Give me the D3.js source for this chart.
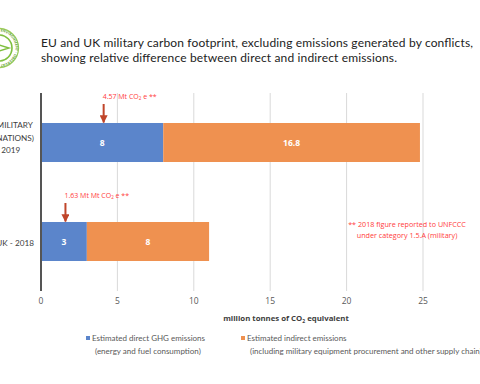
<!DOCTYPE html>
<html><head><meta charset="utf-8">
<script src="https://cdn.jsdelivr.net/npm/d3@7"></script>
<style>
html,body{margin:0;padding:0;background:#fff;overflow:hidden;}
svg{display:block;}
</style></head>
<body>
<svg id="c" width="480" height="384"></svg>
<script>
// ---- data ----
const categories = ["EU", "UK"];
const categoryLabels = [["EU MILITARY", "(27 NATIONS)", "- 2019"], ["UK - 2018"]];
const directValues = [8, 3];
const indirectValues = [16.8, 8];
const reportedValues = ["4.57", "1.63"];
const reportedLabels = ["4.57 Mt CO", "1.63 Mt Mt CO"];
const reportedArrowAt = [4.1, 1.6];
const xTicks = [0, 5, 10, 15, 20, 25];
const titleLines = ["EU and UK military carbon footprint, excluding emissions generated by conflicts,",
                    "showing relative difference between direct and indirect emissions."];
const seriesNames = [["Estimated direct GHG emissions", "(energy and fuel consumption)"],
                     ["Estimated indirect emissions", "(including military equipment procurement and other supply chain)"]];
const footnoteLines = ["** 2018 figure reported to UNFCCC", "under category 1.5.A (military)"];
const axisTitle = "million tonnes of CO";

const colors = ["#5b85cb", "#ef9150"];
const svg = d3.select("#c");
const font = "'Open Sans', Lato, sans-serif";

// ---- scales ----
const x = d3.scaleLinear().domain([0, 25]).range([41, 423]);
const y = d3.scaleBand().domain(categories).range([93, 291]).paddingInner(0.606).paddingOuter(0.303);

// ---- logo ----
const logo = svg.append("g").attr("transform", "translate(-1,48)");
logo.append("circle").attr("r", 19.5).attr("fill", "none").attr("stroke", "#9ccc5a").attr("stroke-width", 1.3);
logo.append("circle").attr("r", 13).attr("fill", "none").attr("stroke", "#7fbf3f").attr("stroke-width", 1.6);
logo.append("path").attr("d", "M-10,-6 L10,0 L-10,6 Z").attr("fill", "none").attr("stroke", "#7fbf3f").attr("stroke-width", 1.4);
logo.append("path").attr("id", "arc").attr("d", "M0,-16.5 A16.5,16.5 0 0,1 0,16.5").attr("fill", "none");
logo.append("text").attr("font-size", 3.6).attr("font-family", font).attr("font-weight", 700).attr("fill", "#6aa83a")
  .append("textPath").attr("href", "#arc").attr("startOffset", "3%").text("ENVIRONMENT · OBSERVATORY");

// ---- title ----
svg.append("g").selectAll("text").data(titleLines).join("text")
  .attr("x", 41).attr("y", (d, i) => 47 + i * 14.5)
  .attr("font-family", "Lato, 'Open Sans', sans-serif").attr("font-size", 12).attr("fill", "#222")
  .attr("textLength", (d, i) => i === 0 ? 432 : 356).attr("lengthAdjust", "spacing")
  .text(d => d);

// ---- grid ----
svg.append("g").selectAll("line").data(xTicks.filter(t => t > 0)).join("line")
  .attr("x1", d => x(d)).attr("x2", d => x(d)).attr("y1", 93).attr("y2", 291)
  .attr("stroke", "#d9d9d9").attr("stroke-width", 1);

// ---- bars ----
const rows = categories.map((c, i) => ({cat: c, direct: directValues[i], indirect: indirectValues[i]}));
const stack = d3.stack().keys(["direct", "indirect"])(rows);
const barG = svg.append("g");
stack.forEach((s, si) => {
  barG.selectAll(null).data(s).join("rect")
    .attr("x", d => x(d[0])).attr("width", d => x(d[1]) - x(d[0]))
    .attr("y", d => y(d.data.cat)).attr("height", y.bandwidth())
    .attr("fill", colors[si]);
  barG.selectAll(null).data(s).join("text")
    .attr("x", d => (x(d[0]) + x(d[1])) / 2).attr("y", d => y(d.data.cat) + y.bandwidth() / 2 + 3)
    .attr("text-anchor", "middle").attr("font-family", font).attr("font-size", 8.5).attr("font-weight", 700)
    .attr("fill", "#fff").text(d => d[1] - d[0] === Math.round(d[1] - d[0]) ? (d[1] - d[0]) : (d[1] - d[0]).toFixed(1));
});

// ---- axis line ----
svg.append("line").attr("x1", 41).attr("x2", 41).attr("y1", 93).attr("y2", 291)
  .attr("stroke", "#555").attr("stroke-width", 2);

// ---- x tick labels ----
svg.append("g").selectAll("text").data(xTicks).join("text")
  .attr("x", d => x(d)).attr("y", 304).attr("text-anchor", "middle")
  .attr("font-family", font).attr("font-size", 8.5).attr("fill", "#595959").text(d => d);

// ---- axis title ----
const at = svg.append("text").attr("x", 286).attr("y", 321).attr("text-anchor", "middle")
  .attr("font-family", font).attr("font-size", 7.8).attr("font-weight", 700).attr("fill", "#404040");
at.append("tspan").text(axisTitle);
at.append("tspan").attr("font-size", 5).attr("dy", 1.5).text("2");
at.append("tspan").attr("dy", -1.5).text(" equivalent");

// ---- category labels (block right-aligned, lines centered) ----
categories.forEach((c, i) => {
  const lines = categoryLabels[i];
  const g = svg.append("g");
  const cy = y(c) + y.bandwidth() / 2;
  const lh = 12.2;
  const texts = g.selectAll("text").data(lines).join("text")
    .attr("font-family", "Lato, sans-serif").attr("font-size", 8.2).attr("fill", "#404040")
    .attr("text-anchor", "middle")
    .attr("y", (d, j) => cy + 3 + (j - (lines.length - 1) / 2) * lh - (lines.length > 1 ? 5 : 0) + (lines.length > 1 ? 0 : 1.5))
    .text(d => d);
  let w = 0;
  texts.each(function () { w = Math.max(w, this.getComputedTextLength()); });
  texts.attr("x", 34 - w / 2);
});

// ---- reported annotations ----
const defs = svg.append("defs");
defs.append("marker").attr("id", "ah").attr("viewBox", "0 0 10 10").attr("refX", 9).attr("refY", 5)
  .attr("markerWidth", 4).attr("markerHeight", 4).attr("orient", "auto")
  .append("path").attr("d", "M0,0 L10,5 L0,10 Z").attr("fill", "#c0452a");
categories.forEach((c, i) => {
  const ax = x(reportedArrowAt[i]);
  const top = y(c);
  svg.append("line").attr("x1", ax).attr("x2", ax).attr("y1", top - 19).attr("y2", top - 0.5)
    .attr("stroke", "#c0452a").attr("stroke-width", 2).attr("marker-end", "url(#ah)");
  const t = svg.append("text").attr("x", ax - 1).attr("y", top - 24)
    .attr("font-family", font).attr("font-size", 7).attr("fill", "#ff3b3b");
  t.append("tspan").text(reportedLabels[i]);
  t.append("tspan").attr("font-size", 4.5).attr("dy", 1.3).text("2");
  t.append("tspan").attr("dy", -1.3).text(" e **");
});

// ---- footnote ----
svg.append("g").selectAll("text").data(footnoteLines).join("text")
  .attr("x", 407).attr("y", (d, i) => 227 + i * 11).attr("text-anchor", "middle")
  .attr("font-family", font).attr("font-size", 7.2).attr("fill", "#ff3b3b").text(d => d);

// ---- legend ----
const legX = [86, 241];
seriesNames.forEach((lines, i) => {
  svg.append("rect").attr("x", legX[i]).attr("y", 336).attr("width", 4).attr("height", 4).attr("fill", colors[i]);
  svg.append("g").selectAll("text").data(lines).join("text")
    .attr("x", (d, j) => legX[i] + 6 + j * 3).attr("y", (d, j) => 341 + j * 13)
    .attr("font-family", "Lato, sans-serif").attr("font-size", 8).attr("fill", "#595959").text(d => d);
});
</script>
</body></html>
